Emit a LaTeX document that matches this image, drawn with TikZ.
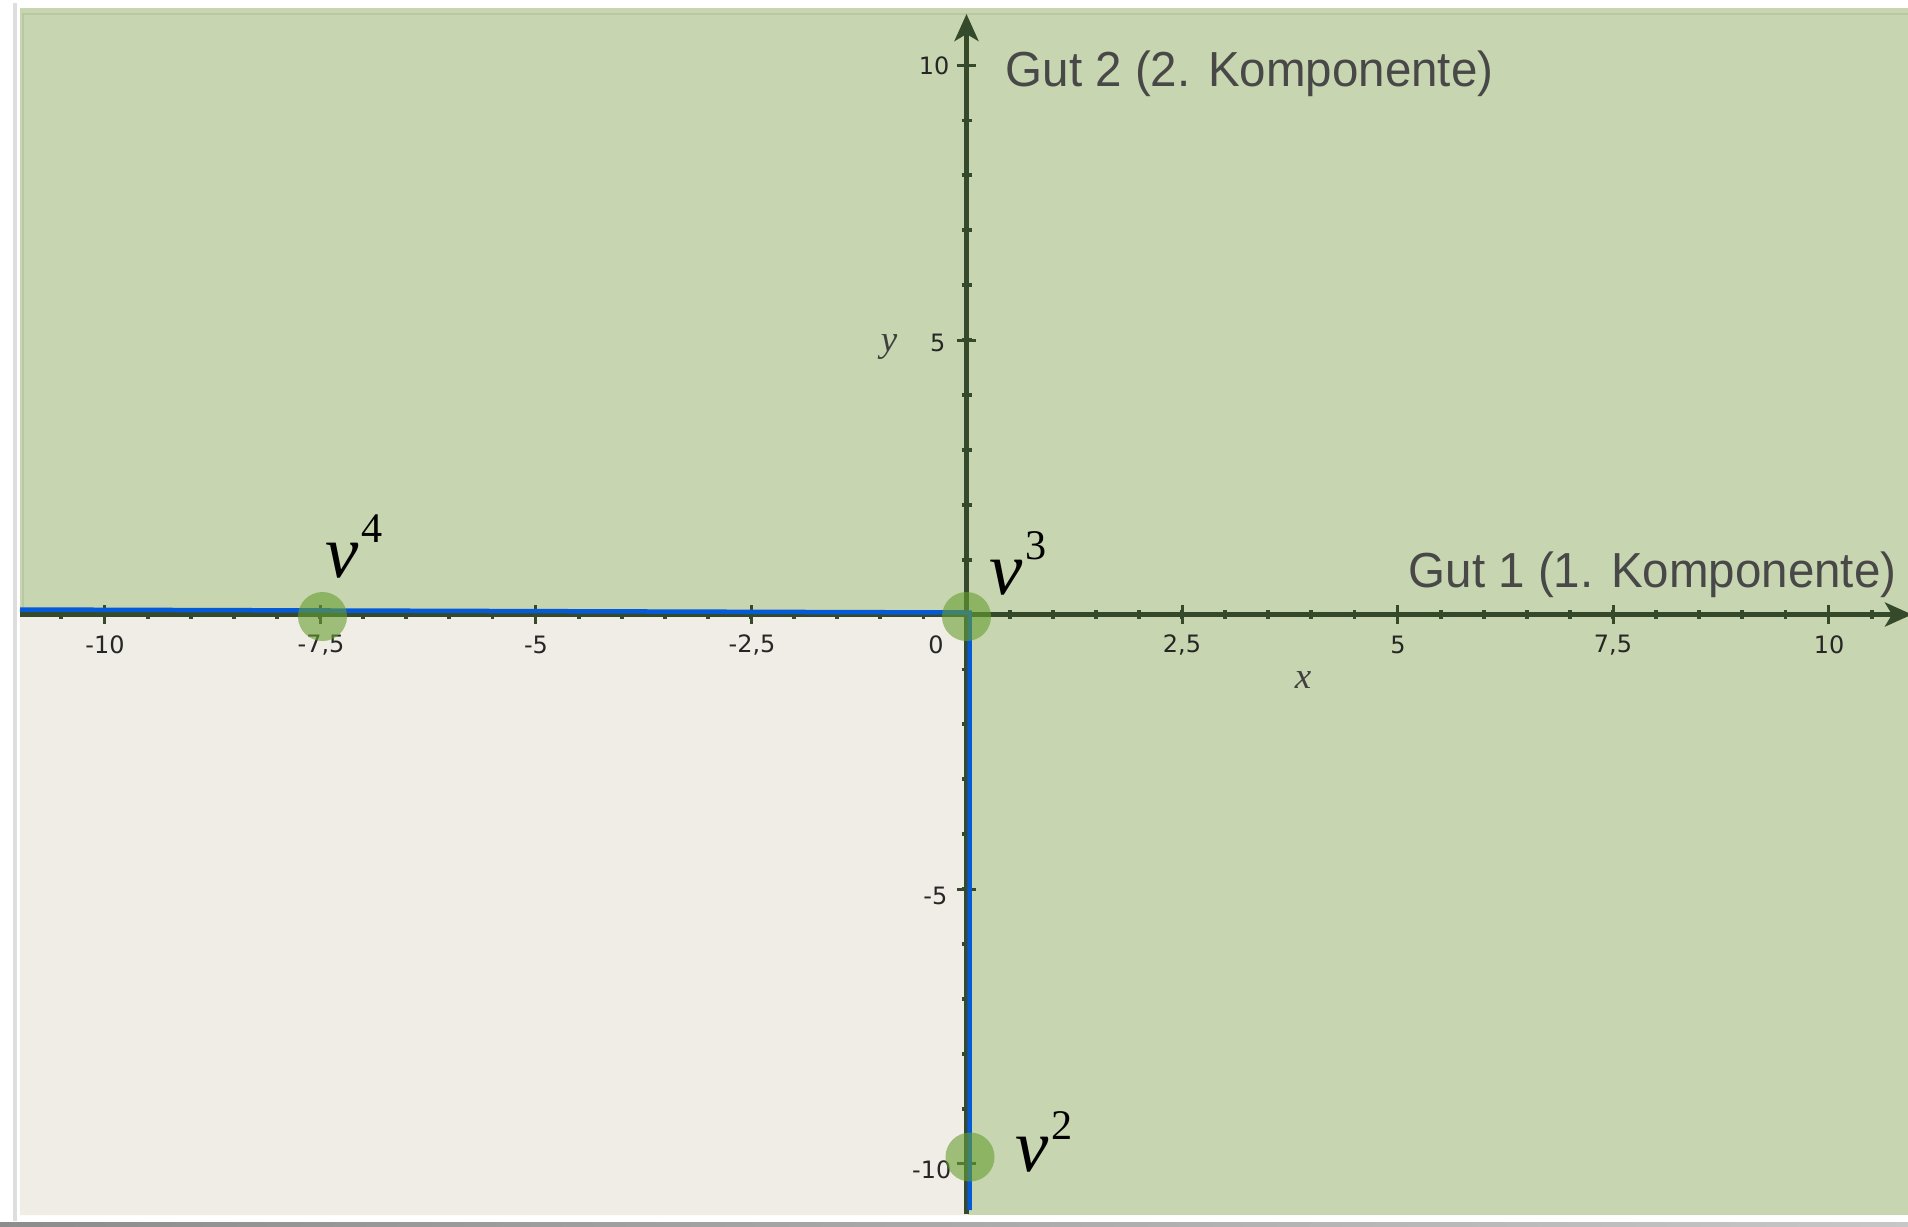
\documentclass[tikz,border=0pt]{standalone}
\usepackage{fontspec}
\newfontfamily\gutfont{Liberation Sans}
\newfontfamily\tickfont{DejaVu Sans}
\newfontfamily\vfont{Liberation Serif}
\usetikzlibrary{arrows.meta}
\definecolor{bggreen}{RGB}{199,213,176}
\definecolor{bgbeige}{RGB}{240,237,230}
\definecolor{axiscol}{RGB}{52,74,42}
\definecolor{bluecol}{RGB}{5,90,215}
\definecolor{dotcol}{RGB}{102,158,49}
\definecolor{gutcol}{RGB}{72,72,72}
\definecolor{edgecol}{RGB}{184,200,160}
\definecolor{shadowcol}{RGB}{222,222,222}
\begin{document}
\begin{tikzpicture}[x=0.01cm,y=-0.01cm,
  gut/.style={font=\gutfont\fontsize{14}{16}\selectfont, text=gutcol, inner sep=0, anchor=base west, xscale=0.965},
  ticklab/.style={font=\tickfont\fontsize{6.8}{8}\selectfont, text=black!85, inner sep=0},
  axlab/.style={font=\vfont\itshape\fontsize{10.5}{12}\selectfont, text=black!75, inner sep=0},
  vlab/.style={font=\vfont\fontsize{21.3}{24}\selectfont, inner sep=0, anchor=base west},
  dotmark/.style={circle, fill=dotcol, fill opacity=0.6, minimum size=0.49cm, inner sep=0},
  axisline/.style={draw=axiscol, line width=0.045cm},
  minortick/.style={draw=axiscol, line width=0.038cm},
  majortick/.style={draw=axiscol, line width=0.03cm},
  bluepath/.style={draw=bluecol, line width=0.045cm},
  axarrow/.style={-{Stealth[length=0.27cm,width=0.24cm,inset=0.07cm]}}
]
\useasboundingbox (0,0) rectangle (1908,1226);
% background and window frame
\fill[white] (0,0) rectangle (1908,1226);
\draw[shadowcol, line width=0.03cm] (15,3) -- (15,1221);
\shade[left color=black!45, right color=black!22] (0,1222) rectangle (1908,1226);
\fill[bggreen] (20,8) rectangle (1908,1215);
\draw[edgecol, line width=0.02cm] (22,13.5) -- (1908,13.5);
\draw[edgecol, line width=0.02cm] (23,13.5) -- (23,1215);
% lower-left region
\fill[bgbeige] (20,610) -- (968,613) -- (968,1215) -- (20,1215) -- cycle;

% axes
\coordinate (O) at (966.5,614.5);
\coordinate (xstart) at (20,614.5);
\coordinate (xend) at (1912,614.5);
\coordinate (ystart) at (966.5,1214);
\coordinate (yend) at (966.5,14);
\draw[axisline, axarrow] (xstart) -- (xend);
\draw[axisline, axarrow] (ystart) -- (yend);

% ticks on x axis
\foreach \i in {-21,...,21} {
  \draw[minortick] ({966.5+\i*43.1},610) -- ({966.5+\i*43.1},619);
}
\foreach \i in {-4,...,4} {
  \draw[majortick] ({966.5+\i*215.5},605) -- ({966.5+\i*215.5},624);
}
% ticks on y axis
\foreach \i in {-10,...,10} {
  \draw[minortick] (961.5,{614.5-\i*54.9}) -- (971.5,{614.5-\i*54.9});
}
\foreach \i in {-2,-1,1,2} {
  \draw[majortick] (957,{614.5-\i*274.5}) -- (976,{614.5-\i*274.5});
}

% tick labels
\node[ticklab] (lxm10) at (105,645) {-10};
\node[ticklab] (lxm75) at (321,645) {-7,5};
\node[ticklab] (lxm5) at (536,645) {-5};
\node[ticklab] (lxm25) at (752,645) {-2,5};
\node[ticklab] (lx0) at (936,645) {0};
\node[ticklab] (lx25) at (1182,645) {2,5};
\node[ticklab] (lx5) at (1398,645) {5};
\node[ticklab] (lx75) at (1613,645) {7,5};
\node[ticklab] (lx10) at (1829,645) {10};
\node[ticklab, anchor=east] (ly10) at (950,66) {10};
\node[ticklab, anchor=east] (ly5) at (946,343) {5};
\node[ticklab, anchor=east] (lym5) at (948,896) {-5};
\node[ticklab, anchor=east] (lym10) at (952,1170) {-10};

% axis names
\node[axlab] (xname) at (1303,680) {x};
\node[axlab] (yname) at (889,347) {y};

% blue boundary
\coordinate (bl) at (20,609.5);
\coordinate (bc) at (969.5,612.5);
\coordinate (bb) at (969.5,1210);
\draw[bluepath] (bl) -- (bc) -- (bb);

% points
\node[dotmark] (p4) at (322.5,616.5) {};
\node[dotmark] (p3) at (966.5,616.5) {};
\node[dotmark] (p2) at (970,1157) {};

% point labels
\node[vlab] (v4) at (325,577) {\itshape v\hspace{0.03cm}\raisebox{0.34cm}{\upshape\fontsize{12}{12}\selectfont 4}};
\node[vlab] (v3) at (989,594) {\itshape v\hspace{0.03cm}\raisebox{0.34cm}{\upshape\fontsize{12}{12}\selectfont 3}};
\node[vlab] (v2) at (1015,1171) {\itshape v\hspace{0.03cm}\raisebox{0.32cm}{\upshape\fontsize{12}{12}\selectfont 2}};

% good labels
\node[gut] (gut2) at (1005,86) {Gut 2 (2. Komponente)};
\node[gut] (gut1) at (1408,587) {Gut 1 (1. Komponente)};
\end{tikzpicture}
\end{document}
